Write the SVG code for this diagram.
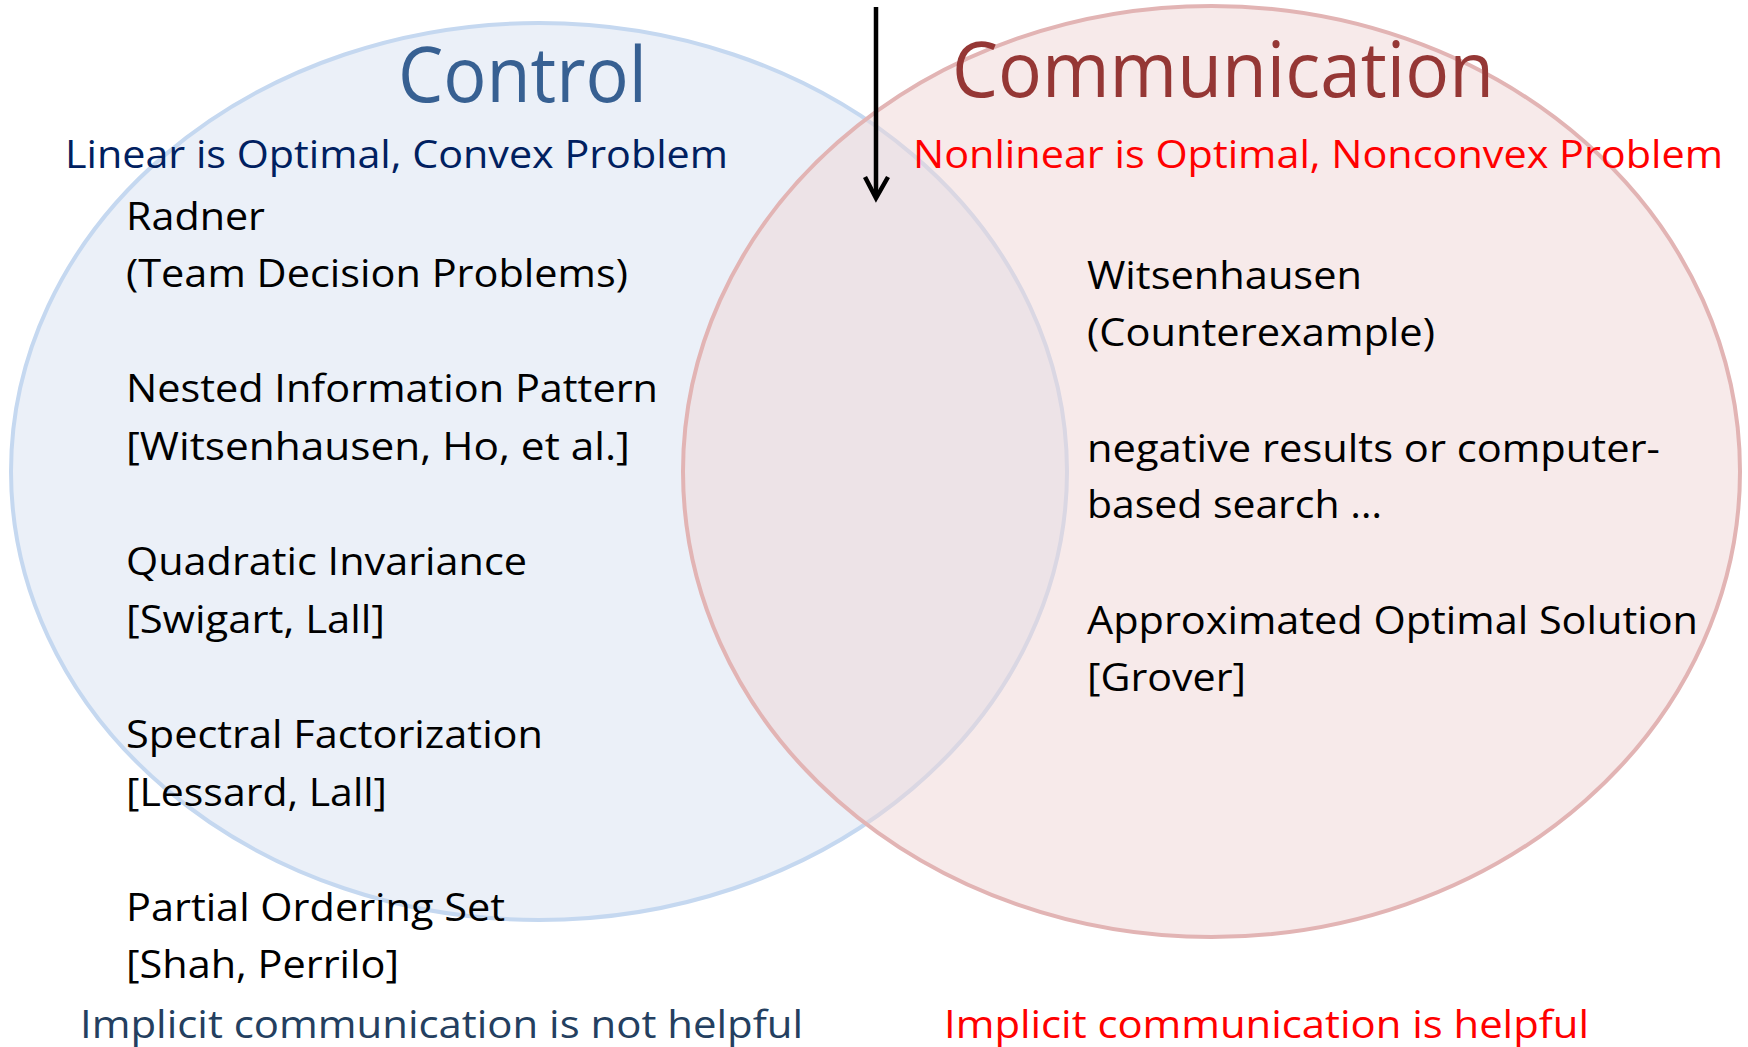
<svg xmlns="http://www.w3.org/2000/svg" width="1748" height="1047" viewBox="0 0 1748 1047">
<style>
text{font-family:"Open Sans","Liberation Sans",sans-serif}
.item{font-size:38px;fill:#000}
.sub{font-size:38px}
.title{font-size:76px}
</style>
<rect width="1748" height="1047" fill="#fff"/>
<g id="control">
<ellipse cx="539" cy="471.5" rx="528" ry="448.5" fill="#EBF0F8" stroke="#C5D8F0" stroke-width="4"/>
</g>
<g id="communication">
<ellipse cx="1211.5" cy="471.5" rx="528.5" ry="465.5" fill="#F0D6D6" fill-opacity="0.5" stroke="#E2B4B4" stroke-width="4"/>
</g>
<g id="connectors">
<path d="M876,7 L876,196" stroke="#000" stroke-width="4.5" fill="none"/>
<path d="M865,177 L876,198 L888,177" stroke="#000" stroke-width="4.5" fill="none"/>
</g>
<g id="control-labels">
<text class="title" x="398" y="102" fill="#376092" textLength="249" lengthAdjust="spacingAndGlyphs">Control</text>
<text class="sub" x="65" y="168" fill="#002060" textLength="663" lengthAdjust="spacingAndGlyphs">Linear is Optimal, Convex Problem</text>
<text class="item" x="126" y="230" textLength="139" lengthAdjust="spacingAndGlyphs">Radner</text>
<text class="item" x="126" y="287" textLength="502" lengthAdjust="spacingAndGlyphs">(Team Decision Problems)</text>
<text class="item" x="126" y="402" textLength="532" lengthAdjust="spacingAndGlyphs">Nested Information Pattern</text>
<text class="item" x="126" y="460" textLength="504" lengthAdjust="spacingAndGlyphs">[Witsenhausen, Ho, et al.]</text>
<text class="item" x="126" y="575" textLength="401" lengthAdjust="spacingAndGlyphs">Quadratic Invariance</text>
<text class="item" x="126" y="633" textLength="259" lengthAdjust="spacingAndGlyphs">[Swigart, Lall]</text>
<text class="item" x="126" y="748" textLength="417" lengthAdjust="spacingAndGlyphs">Spectral Factorization</text>
<text class="item" x="126" y="806" textLength="261" lengthAdjust="spacingAndGlyphs">[Lessard, Lall]</text>
<text class="item" x="126" y="921" textLength="379" lengthAdjust="spacingAndGlyphs">Partial Ordering Set</text>
<text class="item" x="126" y="978" textLength="273" lengthAdjust="spacingAndGlyphs">[Shah, Perrilo]</text>
<text class="sub" x="80" y="1038" fill="#243F60" textLength="723" lengthAdjust="spacingAndGlyphs">Implicit communication is not helpful</text>
</g>
<g id="communication-labels">
<text class="title" x="952" y="97" fill="#953735" textLength="542" lengthAdjust="spacingAndGlyphs">Communication</text>
<text class="sub" x="913" y="168" fill="#FF0000" textLength="810" lengthAdjust="spacingAndGlyphs">Nonlinear is Optimal, Nonconvex Problem</text>
<text class="item" x="1087" y="289" textLength="275" lengthAdjust="spacingAndGlyphs">Witsenhausen</text>
<text class="item" x="1087" y="346" textLength="348" lengthAdjust="spacingAndGlyphs">(Counterexample)</text>
<text class="item" x="1087" y="462" textLength="573" lengthAdjust="spacingAndGlyphs">negative results or computer-</text>
<text class="item" x="1087" y="518" textLength="295" lengthAdjust="spacingAndGlyphs">based search …</text>
<text class="item" x="1087" y="634" textLength="611" lengthAdjust="spacingAndGlyphs">Approximated Optimal Solution</text>
<text class="item" x="1087" y="691" textLength="159" lengthAdjust="spacingAndGlyphs">[Grover]</text>
<text class="sub" x="944" y="1038" fill="#FF0000" textLength="645" lengthAdjust="spacingAndGlyphs">Implicit communication is helpful</text>
</g>
</svg>
